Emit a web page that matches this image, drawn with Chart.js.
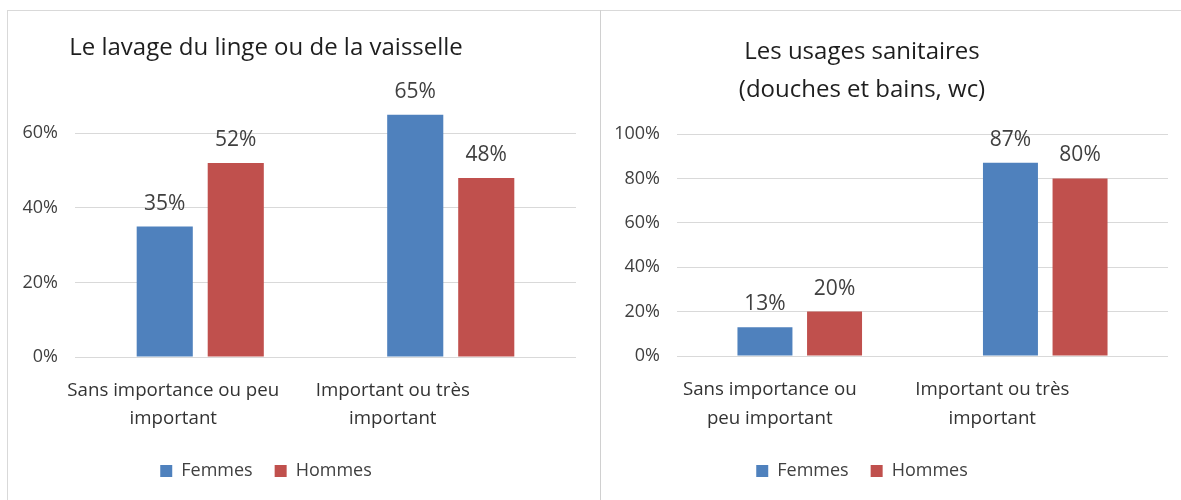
<!DOCTYPE html>
<html>
<head>
<meta charset="utf-8">
<script src="https://cdn.jsdelivr.net/npm/chart.js@4"></script>
<style>
  html, body { margin: 0; padding: 0; background: #fff; }
  body { width: 1181px; height: 500px; position: relative; overflow: hidden; }
  .frame { position: absolute; left: 7px; top: 10px; width: 1174px; height: 500px;
           border-top: 1px solid #d9d9d9; border-left: 1px solid #d9d9d9; }
  .divider { position: absolute; left: 600px; top: 10px; width: 1px; height: 490px; background: #d0d0d0; }
  canvas { position: absolute; top: 0; }
  #chartLeft { left: -44px; }
  #chartRight { left: 556px; }
</style>
</head>
<body>
<div class="frame"></div>
<div class="divider"></div>
<canvas id="chartLeft" width="620" height="500"></canvas>
<canvas id="chartRight" width="612" height="500"></canvas>
<script>
// categories and series
const categoriesLeft = [['Sans importance ou peu', 'important'], ['Important ou très', 'important']];
const categoriesRight = [['Sans importance ou', 'peu important'], ['Important ou très', 'important']];
const seriesNames = ['Femmes', 'Hommes'];

const lavageFemmes = [35, 65];
const lavageHommes = [52, 48];
const sanitairesFemmes = [13, 87];
const sanitairesHommes = [20, 80];

const titleLeft = 'Le lavage du linge ou de la vaisselle';
const titleRight = ['Les usages sanitaires', '(douches et bains, wc)'];

const blue = '#4f81bd';
const red = '#c0504d';

Chart.defaults.font.family = "'Open Sans', 'Noto Sans', sans-serif";
Chart.defaults.color = '#404040';

// draws "35%" etc above each bar
const barLabels = {
    id: 'barLabels',
    afterDatasetsDraw(chart) {
        const ctx = chart.ctx;
        ctx.save();
        ctx.font = "21px 'Open Sans', 'Noto Sans', sans-serif";
        ctx.fillStyle = '#404040';
        ctx.textAlign = 'center';
        ctx.textBaseline = 'alphabetic';
        chart.data.datasets.forEach((ds, i) => {
            chart.getDatasetMeta(i).data.forEach((bar, j) => {
                ctx.fillText(ds.data[j] + '%', bar.x, bar.y - 17);
            });
        });
        ctx.restore();
    }
};

// the category labels sit a bit left of their bars in the original
const shiftLabels = {
    id: 'shiftLabels',
    beforeDraw(chart, args, opts) {
        chart.scales.x.getLabelItems().forEach((item, i) => {
            if (item._shifted) return;
            item.options.translation[0] += opts.dx[i] || 0;
            item._shifted = true;
        });
    }
};

function makeChart(id, labels, femmes, hommes, title, yMax, opts) {
    const ctx = document.getElementById(id).getContext('2d');
    return new Chart(ctx, {
        type: 'bar',
        data: {
            labels: labels,
            datasets: [
                { label: seriesNames[0], data: femmes, backgroundColor: blue },
                { label: seriesNames[1], data: hommes, backgroundColor: red }
            ]
        },
        options: {
            responsive: false,
            animation: false,
            devicePixelRatio: 1,
            categoryPercentage: 0.567,
            barPercentage: 0.79,
            layout: { padding: { top: 0, right: 0, bottom: 10, left: 0 } },
            scales: {
                x: {
                    grid: { display: false, drawTicks: false },
                    border: { display: true, color: '#d9d9d9' },
                    ticks: {
                        color: '#333333',
                        padding: opts.xPad,
                        font: { size: 18.7, lineHeight: opts.xLine / 18.7 }
                    },
                    afterFit: s => { s.height = opts.xHeight; }
                },
                y: {
                    min: 0,
                    max: yMax,
                    grid: { color: '#d9d9d9', drawTicks: false },
                    border: { display: false },
                    ticks: {
                        stepSize: 20,
                        padding: 17,
                        color: '#404040',
                        font: { size: 18 },
                        callback: v => v + '%'
                    },
                    afterBuildTicks: s => { s.ticks = s.ticks.filter(t => t.value % 20 === 0); },
                    afterFit: s => { s.width = opts.yWidth; }
                }
            },
            plugins: {
                title: {
                    display: true,
                    text: title,
                    color: '#1e1e1e',
                    font: { size: 24, weight: 'normal', lineHeight: opts.tLine / 24 },
                    padding: { top: opts.tTop, bottom: opts.tBottom }
                },
                legend: {
                    position: 'bottom',
                    labels: {
                        boxWidth: 12,
                        boxHeight: 12,
                        padding: 22,
                        color: '#404040',
                        font: { size: 18 }
                    }
                },
                shiftLabels: { dx: opts.xShift },
                tooltip: { enabled: false }
            }
        },
        plugins: [barLabels, shiftLabels]
    });
}

makeChart('chartLeft', categoriesLeft, lavageFemmes, lavageHommes, titleLeft, 70,
    { yWidth: 119, xHeight: 83, xPad: 20, xLine: 28, xShift: [-27, -58], tLine: 30, tTop: 33, tBottom: 33 });
makeChart('chartRight', categoriesRight, sanitairesFemmes, sanitairesHommes, titleRight, 100,
    { yWidth: 121, xHeight: 84, xPad: 19.5, xLine: 29, xShift: [-30, -53], tLine: 38, tTop: 33, tBottom: 25 });
</script>
</body>
</html>
